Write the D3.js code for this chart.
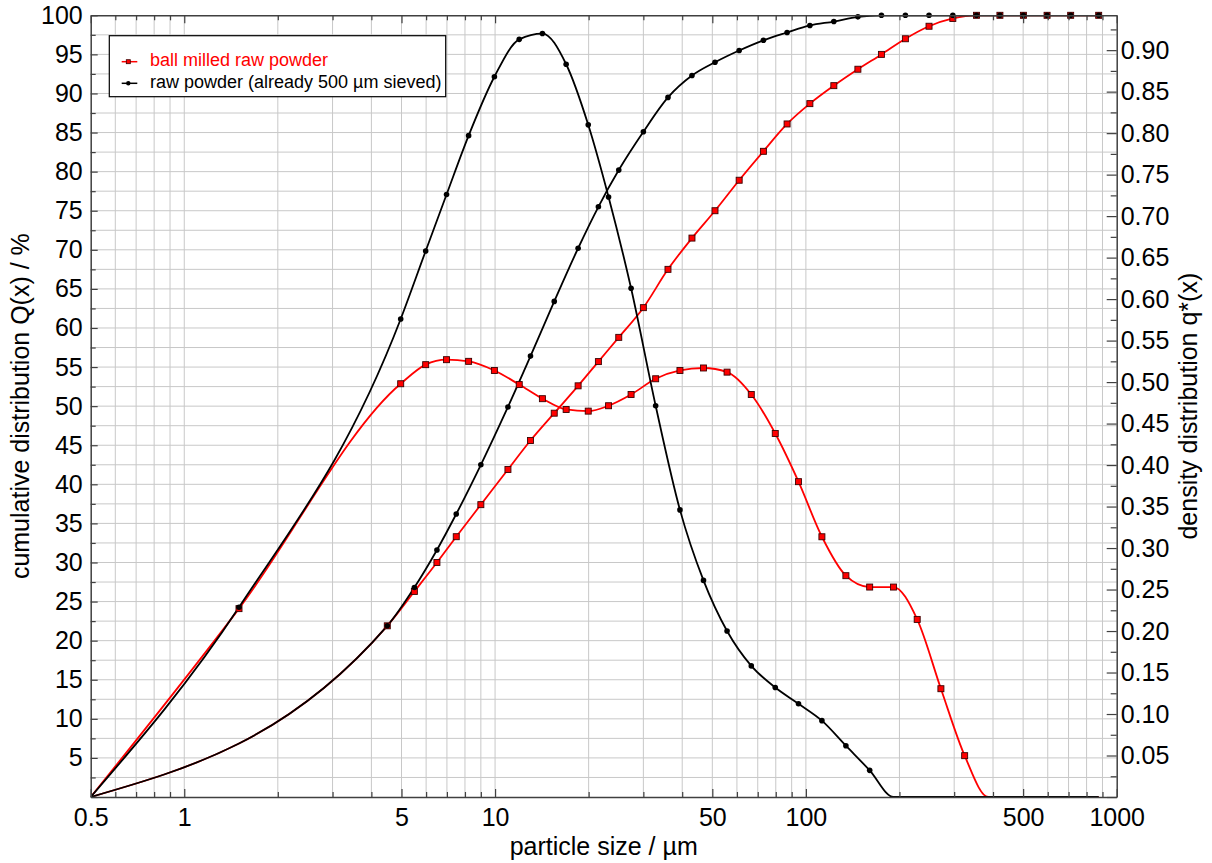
<!DOCTYPE html>
<html>
<head>
<meta charset="utf-8">
<script src="https://cdn.jsdelivr.net/npm/d3@7"></script>
<style>
body { margin: 0; background: #fff; }
svg text { font-family: "Liberation Sans", Arial, sans-serif; }
</style>
</head>
<body>
<div id="chart"></div>
<script>
// class upper bounds (µm), cumulative Q(x) is given there
const sizes = [0.5, 4.5, 5.5, 6.5, 7.5, 9, 11, 13, 15.5, 18.5, 21.5, 25, 30, 36, 43, 51, 61, 73, 87, 103, 123, 147, 175, 209, 249, 297, 354, 421, 501, 597, 711, 875];
const milledQ = [0, 21.9, 26.3, 30.0, 33.3, 37.4, 41.9, 45.6, 49.1, 52.6, 55.7, 58.8, 62.6, 67.5, 71.5, 75.0, 78.9, 82.6, 86.1, 88.7, 91.0, 93.1, 95.0, 97.0, 98.6, 99.6, 100, 100, 100, 100, 100, 100];
const rawQ = [0, 21.9, 26.8, 31.6, 36.2, 42.5, 49.9, 56.4, 63.4, 70.2, 75.5, 80.2, 85.1, 89.5, 92.3, 94.0, 95.5, 96.8, 97.8, 98.7, 99.2, 99.8, 100, 100, 100, 100, 100, 100, 100, 100, 100, 100];

// class mean sizes (µm), density q*(x) is given there
const midSizes = [0.5, 1.5, 4.97, 5.98, 6.98, 8.22, 9.95, 11.96, 14.2, 16.93, 19.94, 23.18, 27.39, 32.86, 39.34, 46.83, 55.77, 66.73, 79.7, 94.67, 112.6, 134.5, 160.4, 191.3, 228.1, 271.9, 324.2, 386.1, 459.3, 546.9, 651.5, 788.7, 875];
const milledDensity = [0, 0.227, 0.498, 0.521, 0.527, 0.525, 0.514, 0.497, 0.480, 0.467, 0.465, 0.4715, 0.485, 0.504, 0.514, 0.517, 0.512, 0.485, 0.438, 0.380, 0.3136, 0.2667, 0.253, 0.253, 0.214, 0.1305, 0.0498, 0, 0, 0, 0, 0, 0];
const rawDensity = [0, 0.2286, 0.576, 0.658, 0.726, 0.797, 0.868, 0.913, 0.920, 0.883, 0.810, 0.723, 0.613, 0.4715, 0.346, 0.261, 0.200, 0.158, 0.132, 0.1124, 0.092, 0.0618, 0.0321, 0, 0, 0, 0, 0, 0, 0, 0, 0, 0];

const xLabels = [0.5, 1, 5, 10, 50, 100, 500, 1000];
const seriesNames = ["ball milled raw powder", "raw powder (already 500 µm sieved)"];

var margin = {top: 15.3, right: 95.3, bottom: 66, left: 90.7},
    width = 1212 - margin.left - margin.right,
    height = 863 - margin.top - margin.bottom;

var svg = d3.select("#chart")
            .append("svg")
                .attr("width", 1212)
                .attr("height", 863)
            .append("g")
                .attr("transform", "translate(" + margin.left + "," + margin.top + ")");

var x = d3.scaleLog().domain([0.5, 1000]).range([0, width]);
var y = d3.scaleLinear().domain([0, 100]).range([height, 0]);
var y2 = d3.scaleLinear().domain([0, 0.942]).range([height, 0]);

const xTicks = x.ticks();
const yTicks = d3.range(0, 100.001, 2.5);
const y2Ticks = d3.range(0, 0.9401, 0.025);

// grid
svg.append("g").selectAll("line")
    .data(xTicks.filter(d => d > 0.5 && d < 1000))
    .enter().append("line")
        .attr("x1", d => x(d)).attr("x2", d => x(d))
        .attr("y1", 0).attr("y2", height)
        .attr("stroke", "#c8c8c8").attr("stroke-width", 1);
svg.append("g").selectAll("line")
    .data(yTicks.filter(d => d > 0 && d < 100))
    .enter().append("line")
        .attr("x1", 0).attr("x2", width)
        .attr("y1", d => y(d)).attr("y2", d => y(d))
        .attr("stroke", "#c8c8c8").attr("stroke-width", 1);

// clip
svg.append("defs").append("clipPath").attr("id", "plot-clip")
    .append("rect").attr("width", width).attr("height", height);
const plotArea = svg.append("g").attr("clip-path", "url(#plot-clip)");

const qLine = d3.line().curve(d3.curveMonotoneX)
    .x(d => x(d[0])).y(d => y(d[1]));
const dLine = d3.line().curve(d3.curveMonotoneX)
    .x(d => x(d[0])).y(d => y2(d[1]));

const milledQData = d3.zip(sizes, milledQ);
const rawQData = d3.zip(sizes, rawQ);
const milledDData = d3.zip(midSizes, milledDensity);
const rawDData = d3.zip(midSizes, rawDensity);

const red = "#ff0000";

// red series
plotArea.append("path").datum(milledQData).attr("d", qLine)
    .attr("fill", "none").attr("stroke", red).attr("stroke-width", 1.8);
plotArea.append("path").datum(milledDData).attr("d", dLine)
    .attr("fill", "none").attr("stroke", red).attr("stroke-width", 1.8);

function squares(data, yScale) {
    svg.append("g").selectAll("rect")
        .data(data.filter(d => d[1] > 0))
        .enter().append("rect")
            .attr("x", d => x(d[0]) - 3)
            .attr("y", d => yScale(d[1]) - 3)
            .attr("width", 6).attr("height", 6)
            .attr("fill", red).attr("stroke", "#3a0000").attr("stroke-width", 0.9);
}
squares(milledQData, y);
squares(milledDData, y2);

// black series
plotArea.append("path").datum(rawQData).attr("d", qLine)
    .attr("fill", "none").attr("stroke", "#000").attr("stroke-width", 1.8);
plotArea.append("path").datum(rawDData).attr("d", dLine)
    .attr("fill", "none").attr("stroke", "#000").attr("stroke-width", 1.8);

function dots(data, yScale) {
    svg.append("g").selectAll("circle")
        .data(data.filter(d => d[1] > 0))
        .enter().append("circle")
            .attr("cx", d => x(d[0]))
            .attr("cy", d => yScale(d[1]))
            .attr("r", 2.8)
            .attr("fill", "#000");
}
dots(rawQData, y);
dots(rawDData, y2);

// axes
const axisColor = "#404040";
function styleAxis(g, fontSize) {
    g.select(".domain").attr("stroke", axisColor).attr("stroke-width", 1.5);
    g.selectAll(".tick line").attr("stroke", axisColor).attr("stroke-width", 1.2);
    g.selectAll("text").attr("font-size", fontSize)
        .attr("font-family", "'Liberation Sans', Arial, sans-serif").attr("fill", "#000");
}

var xAxis = svg.append("g")
    .attr("transform", "translate(0," + height + ")")
    .call(d3.axisBottom(x).tickValues(xTicks).tickSize(-5).tickSizeOuter(0).tickPadding(11)
        .tickFormat(d => xLabels.includes(d) ? String(d) : ""));
xAxis.selectAll(".tick line").filter(d => xLabels.includes(d)).attr("y2", -8);
styleAxis(xAxis, 25);

var xAxisTop = svg.append("g")
    .call(d3.axisTop(x).tickValues(xTicks).tickSize(-5).tickSizeOuter(0).tickFormat(""));
xAxisTop.selectAll(".tick line").filter(d => xLabels.includes(d)).attr("y2", 8);
styleAxis(xAxisTop, 25);

var yAxis = svg.append("g")
    .call(d3.axisLeft(y).tickValues(yTicks).tickSize(-5).tickSizeOuter(0).tickPadding(8)
        .tickFormat(d => (d > 0 && d % 5 === 0) ? String(d) : ""));
yAxis.selectAll(".tick line").filter(d => d % 5 === 0).attr("x2", 7);
styleAxis(yAxis, 25);

var yAxisRight = svg.append("g")
    .attr("transform", "translate(" + width + ",0)")
    .call(d3.axisRight(y2).tickValues(y2Ticks).tickSize(-6).tickSizeOuter(0).tickPadding(4)
        .tickFormat((d, i) => (i > 0 && i % 2 === 0) ? d3.format(".2f")(d) : ""));
yAxisRight.selectAll(".tick line").filter((d, i) => i % 2 === 0).attr("x2", -10);
styleAxis(yAxisRight, 25);

// axis titles
svg.append("text")
    .attr("x", width / 2)
    .attr("y", height + 58)
    .style("text-anchor", "middle")
    .attr("font-size", 25)
    .text("particle size / µm");

svg.append("text")
    .attr("transform", "rotate(-90)")
    .attr("x", -height / 2)
    .attr("y", 22 - margin.left)
    .attr("dominant-baseline", "middle")
    .style("text-anchor", "middle")
    .attr("font-size", 25)
    .text("cumulative distribution Q(x) / %");

svg.append("text")
    .attr("transform", "rotate(-90)")
    .attr("x", -height / 2)
    .attr("y", width + 74)
    .attr("dominant-baseline", "middle")
    .style("text-anchor", "middle")
    .attr("font-size", 25)
    .text("density distribution q*(x)");

// legend
const legend = svg.append("g").attr("id", "legend")
    .attr("transform", "translate(" + (109.3 - margin.left) + "," + (35.7 - margin.top) + ")");
legend.append("rect")
    .attr("width", 336.4).attr("height", 61)
    .attr("fill", "#fff").attr("stroke", "#000").attr("stroke-width", 1.2);
const legendColor = [red, "#000"];
legend.selectAll("line.key")
    .data(seriesNames).enter().append("line")
        .attr("x1", 12.4).attr("x2", 28)
        .attr("y1", (d, i) => 26 + i * 21.6).attr("y2", (d, i) => 26 + i * 21.6)
        .attr("stroke", (d, i) => legendColor[i]).attr("stroke-width", 1.5);
legend.append("rect")
    .attr("x", 17).attr("y", 24).attr("width", 4).attr("height", 4)
    .attr("fill", red).attr("stroke", "#3a0000").attr("stroke-width", 0.8);
legend.append("circle")
    .attr("cx", 19).attr("cy", 26 + 21.6).attr("r", 2.2).attr("fill", "#000");
legend.selectAll("text")
    .data(seriesNames).enter().append("text")
        .attr("x", 40.7)
        .attr("y", (d, i) => 26 + i * 21.6)
        .attr("dominant-baseline", "middle")
        .attr("font-size", 18)
        .attr("fill", (d, i) => legendColor[i])
        .text(d => d);
</script>
</body>
</html>
